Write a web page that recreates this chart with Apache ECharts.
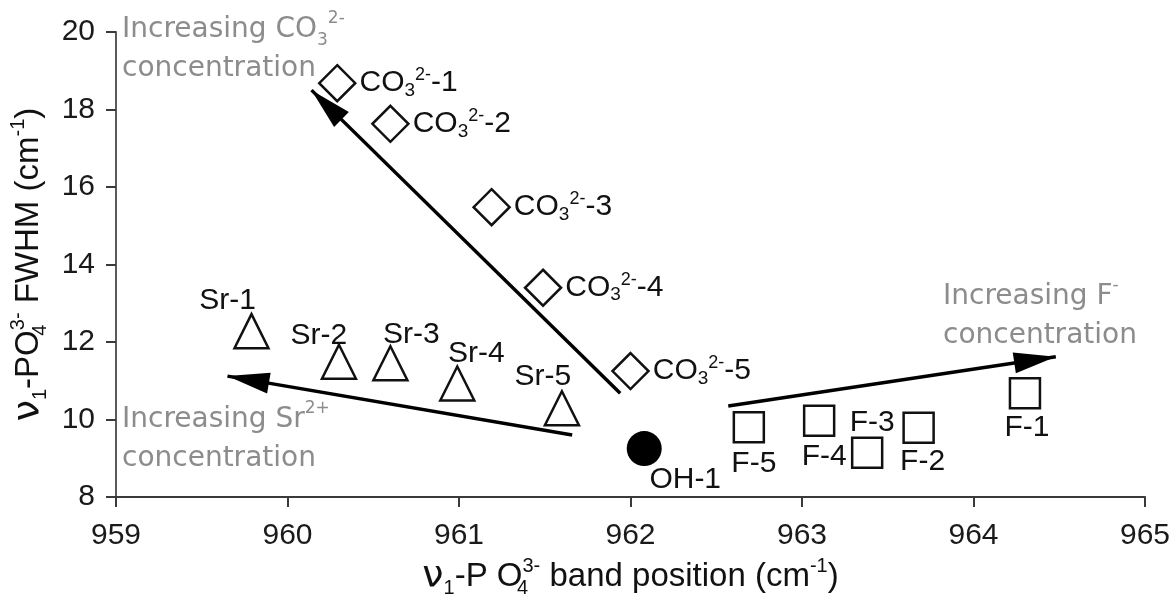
<!DOCTYPE html>
<html>
<head>
<meta charset="utf-8">
<script src="https://cdn.jsdelivr.net/npm/echarts@6/dist/echarts.min.js"></script>
<style>
  html, body { margin: 0; padding: 0; background: #ffffff; }
  #chart { width: 1176px; height: 594px; }
</style>
</head>
<body>
<div id="chart"></div>
<script>
// ν1-PO4(3-) band position (cm-1) and FWHM (cm-1) of each apatite sample
const co3Ids = ['1', '2', '3', '4', '5'];
const co3Pos = [960.29, 960.60, 961.19, 961.49, 962.00];
const co3Fwhm = [18.68, 17.63, 15.48, 13.40, 11.25];

const srNames = ['Sr-1', 'Sr-2', 'Sr-3', 'Sr-4', 'Sr-5'];
const srPos = [959.79, 960.30, 960.60, 960.99, 961.60];
const srFwhm = [12.28, 11.49, 11.45, 10.93, 10.29];

const ohNames = ['OH-1'];
const ohPos = [962.08];
const ohFwhm = [9.25];

const fNames = ['F-1', 'F-2', 'F-3', 'F-4', 'F-5'];
const fPos = [964.30, 963.68, 963.38, 963.10, 962.69];
const fFwhm = [10.68, 9.79, 9.14, 9.97, 9.80];

// trend arrows, tail -> head, in axis units
const co3TrendFrom = [961.94, 10.68];
const co3TrendTo = [960.14, 18.50];
const srTrendFrom = [961.66, 9.60];
const srTrendTo = [959.65, 11.12];
const fTrendFrom = [962.57, 10.35];
const fTrendTo = [964.48, 11.62];

const xRange = [959, 965];
const yRange = [8, 20];
const xStep = 1;
const yStep = 2;

// label placement (pixels from the marker centre)
const srLabelOffsets = [[-24, -30], [-20, -26], [21, -29], [19, -30], [-19, -32]];
const ohLabelOffsets = [[41, 31]];
const fLabelOffsets = [[2, 35], [4, 34], [5, -30], [5, 36], [5, 36]];

const TICK_FONT = 'Liberation Sans, Arial, sans-serif';
const LABEL_FONT = 'Liberation Sans, Arial, sans-serif';
const NOTE_FONT = 'DejaVu Sans, sans-serif';
const INK = '#111111';
const NOTE = '#8c8c8c';

const labelRich = {
  n: { fontFamily: LABEL_FONT, fontSize: 30, color: INK, lineHeight: 34 },
  sub: { fontFamily: LABEL_FONT, fontSize: 19, color: INK, lineHeight: 18, verticalAlign: 'bottom' },
  sup: { fontFamily: LABEL_FONT, fontSize: 18, color: INK, lineHeight: 18, verticalAlign: 'top' }
};

function nameRich() {
  return {
    t: { fontFamily: TICK_FONT, fontSize: 33, color: INK, lineHeight: 42 },
    nu: { fontFamily: 'DejaVu Sans, sans-serif', fontSize: 38, color: INK, lineHeight: 42 },
    s1: { fontFamily: TICK_FONT, fontSize: 20, color: INK, lineHeight: 20, verticalAlign: 'bottom' },
    a4: { fontFamily: TICK_FONT, fontSize: 20, color: INK, lineHeight: 20, verticalAlign: 'bottom', width: 0 },
    a3: { fontFamily: TICK_FONT, fontSize: 20, color: INK, lineHeight: 20, verticalAlign: 'top' },
    sp: { fontFamily: TICK_FONT, fontSize: 20, color: INK, lineHeight: 20, verticalAlign: 'top' }
  };
}

function pointsOf(xs, ys, names, offsets) {
  return xs.map((x, i) => {
    const item = { value: [x, ys[i]], name: names[i] };
    if (offsets) item.label = { offset: offsets[i] };
    return item;
  });
}

// one trend arrow: plain tail, long filled triangular head whose tip sits on the end point
const HEAD = [21, 42];
function trendArrow(from, to) {
  return [
    { coord: from, symbol: 'none' },
    { coord: to, symbol: 'triangle', symbolSize: HEAD, symbolOffset: [0, HEAD[1] / 2] }
  ];
}

// grey two-line notes; (x, y) is the left end of the first line's middle
function noteText(x, y, text) {
  const lineH = 39;
  return {
    type: 'text',
    x: x,
    y: y - lineH / 2,
    z: 10,
    style: {
      text: text,
      verticalAlign: 'top',
      rich: {
        a: { fontFamily: NOTE_FONT, fontSize: 28, fill: NOTE, lineHeight: lineH },
        sub: { fontFamily: NOTE_FONT, fontSize: 17, fill: NOTE, lineHeight: 17, verticalAlign: 'bottom' },
        sup: { fontFamily: NOTE_FONT, fontSize: 17, fill: NOTE, lineHeight: 17, verticalAlign: 'top' }
      }
    }
  };
}

const chart = echarts.init(document.getElementById('chart'), null, { renderer: 'canvas' });

const axisLineStyle = { color: '#3a3a3a', width: 2 };

chart.setOption({
  animation: false,
  backgroundColor: '#ffffff',
  grid: { left: 116, right: 31, top: 32, bottom: 97, containLabel: false, outerBoundsMode: 'none' },
  xAxis: {
    type: 'value',
    min: xRange[0],
    max: xRange[1],
    interval: xStep,
    splitLine: { show: false },
    axisLine: { show: true, onZero: false, lineStyle: axisLineStyle },
    axisTick: { show: true, inside: false, length: 10, lineStyle: axisLineStyle },
    axisLabel: { fontFamily: TICK_FONT, fontSize: 30, color: '#1a1a1a', margin: 24 },
    name: '{nu|ν}{s1|1}{t|-P O}{a4|4}{a3|3-}{t| band position (cm}{sp|-1}{t|)}',
    nameLocation: 'middle',
    nameGap: 59,
    nameTextStyle: { rich: nameRich() }
  },
  yAxis: {
    type: 'value',
    min: yRange[0],
    max: yRange[1],
    interval: yStep,
    splitLine: { show: false },
    axisLine: { show: true, onZero: false, lineStyle: { color: '#5a5a5a', width: 2 } },
    axisTick: { show: true, inside: false, length: 10, lineStyle: axisLineStyle },
    axisLabel: { fontFamily: TICK_FONT, fontSize: 30, color: '#1a1a1a', margin: 21 },
    name: '{nu|ν}{s1|1}{t|-PO}{a4|4}{a3|3-}{t| FWHM (cm}{sp|-1}{t|)}',
    nameLocation: 'middle',
    nameRotate: 90,
    nameGap: 66,
    nameTextStyle: { rich: nameRich() }
  },
  graphic: [
    noteText(122, 30, '{a|Increasing CO}{sub|3}{sup|2-}\n{a|concentration}'),
    noteText(122, 420, '{a|Increasing Sr}{sup|2+}\n{a|concentration}'),
    noteText(943, 297, '{a|Increasing F}{sup|-}\n{a|concentration}')
  ],
  series: [
    {
      type: 'scatter',
      name: 'CO3',
      symbol: 'diamond',
      symbolSize: 36,
      z: 3,
      itemStyle: { color: '#ffffff', borderColor: INK, borderWidth: 2.5, opacity: 1 },
      data: pointsOf(co3Pos, co3Fwhm, co3Ids, null),
      label: {
        show: true,
        position: 'right',
        distance: 3,
        formatter: p => '{n|CO}{sub|3}{sup|2-}{n|-' + p.name + '}',
        rich: labelRich
      }
    },
    {
      type: 'scatter',
      name: 'Sr',
      symbol: 'triangle',
      symbolSize: 34,
      z: 3,
      itemStyle: { color: '#ffffff', borderColor: INK, borderWidth: 2.5, opacity: 1 },
      data: pointsOf(srPos, srFwhm, srNames, srLabelOffsets),
      label: { show: true, position: 'inside', formatter: '{b}', fontFamily: LABEL_FONT, fontSize: 30, color: INK }
    },
    {
      type: 'scatter',
      name: 'OH',
      symbol: 'circle',
      symbolSize: 35,
      z: 3,
      itemStyle: { color: '#000000', borderColor: '#000000', borderWidth: 0, opacity: 1 },
      data: pointsOf(ohPos, ohFwhm, ohNames, ohLabelOffsets),
      label: { show: true, position: 'inside', formatter: '{b}', fontFamily: LABEL_FONT, fontSize: 30, color: INK },
      // trend arrows
      markLine: {
        silent: true,
        animation: false,
        z: 1,
        symbol: ['none', 'triangle'],
        label: { show: false },
        emphasis: { disabled: true },
        lineStyle: { type: 'solid', color: '#000000', width: 3.5, opacity: 1 },
        data: [
          trendArrow(co3TrendFrom, co3TrendTo),
          trendArrow(srTrendFrom, srTrendTo),
          trendArrow(fTrendFrom, fTrendTo)
        ]
      }
    },
    {
      type: 'scatter',
      name: 'F',
      symbol: 'rect',
      symbolSize: 30,
      z: 3,
      itemStyle: { color: '#ffffff', borderColor: INK, borderWidth: 2.5, opacity: 1 },
      data: pointsOf(fPos, fFwhm, fNames, fLabelOffsets),
      label: { show: true, position: 'inside', formatter: '{b}', fontFamily: LABEL_FONT, fontSize: 30, color: INK }
    }
  ]
});
</script>
</body>
</html>
